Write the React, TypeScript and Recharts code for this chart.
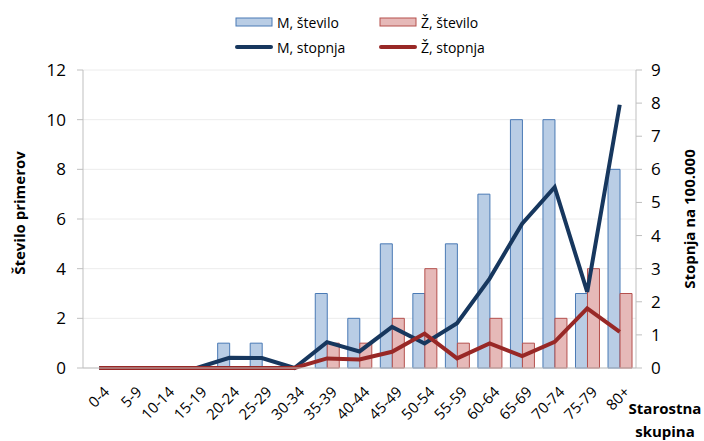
import {
  ComposedChart,
  Bar,
  Line,
  XAxis,
  YAxis,
  CartesianGrid,
} from 'recharts';

const ageGroups = [
  '0-4', '5-9', '10-14', '15-19', '20-24', '25-29', '30-34', '35-39', '40-44',
  '45-49', '50-54', '55-59', '60-64', '65-69', '70-74', '75-79', '80+',
];

// število primerov
const maleCount = [0, 0, 0, 0, 1, 1, 0, 3, 2, 5, 3, 5, 7, 10, 10, 3, 8];
const femaleCount = [0, 0, 0, 0, 0, 0, 0, 1, 1, 2, 4, 1, 2, 1, 2, 4, 3];

// stopnja na 100.000
const maleRate = [0, 0, 0, 0, 0.31, 0.3, 0, 0.78, 0.5, 1.24, 0.74, 1.35, 2.7, 4.36, 5.46, 2.3, 7.95];
const femaleRate = [0, 0, 0, 0, 0, 0, 0, 0.29, 0.26, 0.49, 1.04, 0.29, 0.74, 0.36, 0.79, 1.8, 1.09];

const countTicks = [0, 2, 4, 6, 8, 10, 12];
const rateTicks = [0, 1, 2, 3, 4, 5, 6, 7, 8, 9];

const rows = ageGroups.map((g, i) => ({
  group: g,
  mCount: maleCount[i],
  zCount: femaleCount[i],
  mRate: maleRate[i],
  zRate: femaleRate[i],
}));

const FONT = '"Open Sans", "Noto Sans", sans-serif';
const BLUE_FILL = '#b9cde5';
const BLUE_EDGE = '#4a7ab5';
const RED_FILL = '#e6b9b8';
const RED_EDGE = '#b5504d';
const NAVY = '#17375e';
const DARK_RED = '#982826';
const AXIS = '#bfbfbf';

const AgeTick = ({ x, y, payload }: any) => {
  const ax = x + 11;
  const ay = y + 25;
  return (
    <text
      x={ax}
      y={ay}
      transform={`rotate(-45 ${ax} ${ay})`}
      textAnchor="end"
      fontSize={15}
      fontFamily={FONT}
      fill="#000"
    >
      {payload.value}
    </text>
  );
};

const legendItems = [
  { label: 'M, število', kind: 'bar', fill: BLUE_FILL, edge: BLUE_EDGE, left: 235, top: 22 },
  { label: 'Ž, število', kind: 'bar', fill: RED_FILL, edge: RED_EDGE, left: 379, top: 22 },
  { label: 'M, stopnja', kind: 'line', fill: NAVY, edge: NAVY, left: 235, top: 47 },
  { label: 'Ž, stopnja', kind: 'line', fill: DARK_RED, edge: DARK_RED, left: 379, top: 47 },
];

function ChartLegend() {
  return (
    <>
      {legendItems.map((it) => (
        <div
          key={it.label}
          style={{
            position: 'absolute',
            left: it.left,
            top: it.top - 10,
            height: 20,
            display: 'flex',
            alignItems: 'center',
            fontFamily: FONT,
            fontSize: 14,
            color: '#000',
            whiteSpace: 'nowrap',
          }}
        >
          <svg width={40} height={20} style={{ marginRight: 2 }}>
            {it.kind === 'bar' ? (
              <rect x={1} y={6} width={36} height={8} fill={it.fill} stroke={it.edge} strokeWidth={1} />
            ) : (
              <line x1={2} y1={10} x2={36} y2={10} stroke={it.fill} strokeWidth={4} strokeLinecap="round" />
            )}
          </svg>
          {it.label}
        </div>
      ))}
    </>
  );
}

export default function App() {
  return (
    <div style={{ position: 'absolute', left: 0, top: 0, width: 704, height: 441, background: '#fff' }}>
      <ComposedChart
        width={704}
        height={441}
        data={rows}
        margin={{ top: 70, right: 0, bottom: 0, left: 0 }}
        barCategoryGap="14%"
        barGap={0}
      >
        <CartesianGrid yAxisId="count" vertical={false} stroke="#ececec" />
        <XAxis
          dataKey="group"
          height={73}
          stroke={AXIS}
          tickLine={false}
          tickSize={0}
          tickMargin={0}
          interval={0}
          tick={<AgeTick />}
          label={{
            content: () => (
              <g fontFamily={FONT} fontSize={15} fontWeight="bold" fill="#000" textAnchor="middle">
                <text x={665} y={414}>Starostna</text>
                <text x={665} y={437}>skupina</text>
              </g>
            ),
          }}
        />
        <YAxis
          yAxisId="count"
          orientation="left"
          width={83}
          domain={[0, 12]}
          ticks={countTicks}
          stroke={AXIS}
          tickSize={6}
          tickMargin={11}
          tick={{ fontSize: 17, fill: '#000', fontFamily: FONT }}
          label={{
            content: () => (
              <text
                x={25}
                y={213}
                transform="rotate(-90 25 213)"
                textAnchor="middle"
                fontFamily={FONT}
                fontSize={15}
                fontWeight="bold"
                fill="#000"
              >
                Število primerov
              </text>
            ),
          }}
        />
        <YAxis
          yAxisId="rate"
          orientation="right"
          width={68}
          domain={[0, 9]}
          ticks={rateTicks}
          stroke={AXIS}
          tickSize={6}
          tickMargin={9}
          tick={{ fontSize: 17, fill: '#000', fontFamily: FONT }}
          label={{
            content: () => (
              <text
                x={695}
                y={219}
                transform="rotate(-90 695 219)"
                textAnchor="middle"
                fontFamily={FONT}
                fontSize={15}
                fontWeight="bold"
                fill="#000"
              >
                Stopnja na 100.000
              </text>
            ),
          }}
        />
        <Bar yAxisId="count" dataKey="mCount" fill={BLUE_FILL} stroke={BLUE_EDGE} strokeWidth={1} isAnimationActive={false} />
        <Bar yAxisId="count" dataKey="zCount" fill={RED_FILL} stroke={RED_EDGE} strokeWidth={1} isAnimationActive={false} />
        <Line yAxisId="rate" type="linear" dataKey="mRate" stroke={NAVY} strokeWidth={4} dot={false} isAnimationActive={false} />
        <Line yAxisId="rate" type="linear" dataKey="zRate" stroke={DARK_RED} strokeWidth={4} dot={false} isAnimationActive={false} />
      </ComposedChart>
      <ChartLegend />
    </div>
  );
}
